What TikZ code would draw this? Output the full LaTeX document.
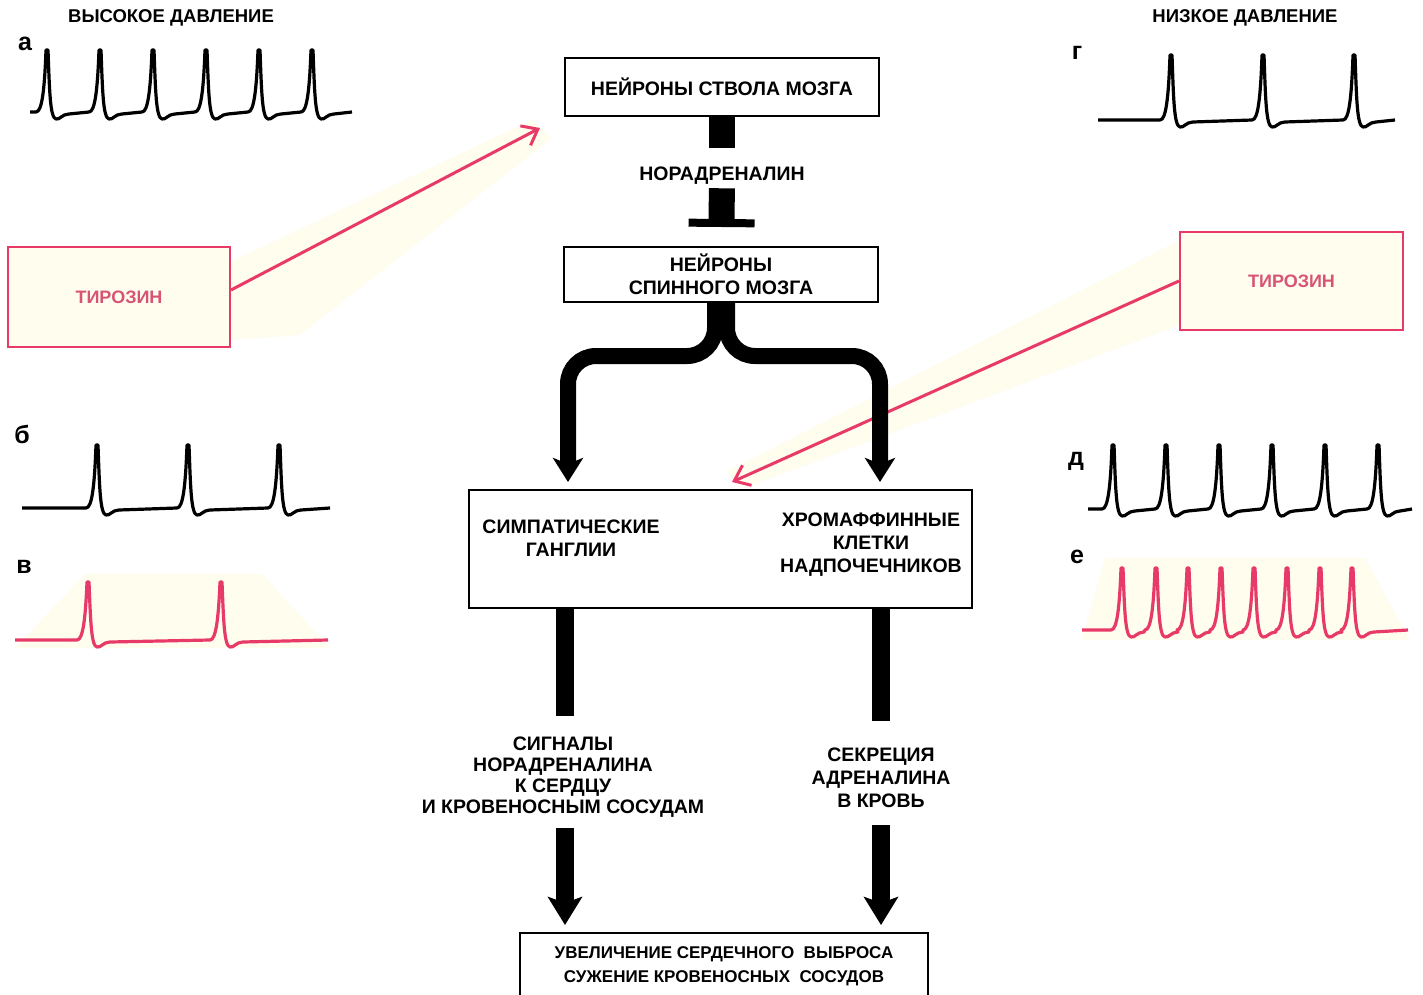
\documentclass[tikz,border=0pt]{standalone}
\usepackage{fontspec}
\setmainfont{Liberation Sans}
\usetikzlibrary{arrows.meta, positioning}
\definecolor{rose}{RGB}{232,58,104}
\definecolor{rosetext}{RGB}{216,84,116}
\definecolor{glow}{RGB}{254,253,238}
% one trace: baseline, peak y, x start, x end, peak positions
\newcommand{\spikes}[5]{(#3,#1) \foreach \p in {#5}{ -- (\p-11,#1)
    .. controls (\p-5,#1) and (\p-2.5,#1-22) .. (\p-1,#2) -- (\p+1,#2)
    .. controls (\p+2.5,#1-22) and (\p+3,#1+6) .. (\p+9,#1+7)
    .. controls (\p+13,#1+8) and (\p+15,#1+2) .. (\p+22,#1+2)} -- (#4,#1)}

\begin{document}
\begin{tikzpicture}[x=1pt, y=-1pt,
          every node/.style={font=\fontsize{19.5}{23}\selectfont\bfseries, align=center},
          box/.style={draw, line width=2pt, fill=white},
          head/.style={font=\fontsize{18.5}{22}\selectfont\bfseries},
          letter/.style={font=\fontsize{25}{25}\selectfont\bfseries},
          tyr/.style={draw=rose, line width=2pt, fill=glow, text=rosetext,
                      font=\fontsize{18}{22}\selectfont\bfseries},
          trace/.style={line width=3.2pt, line join=round},
          pinktrace/.style={trace, draw=rose},
          pinkar/.style={-{Straight Barb[length=14pt, width=22pt]}, draw=rose, line width=3pt},
          bar/.style={line width=26pt},
          fork/.style={-{Stealth[length=24pt, width=30pt, inset=6pt]}, line width=16pt,
                       rounded corners=28pt},
          fat/.style={line width=18pt},
          fatar/.style={-{Stealth[length=28pt, width=34pt, inset=6pt]}, line width=18pt}]
  \clip (0,0) rectangle (1423,995);
  \fill[white] (0,0) rectangle (1423,995);

  % faint glows
  \fill[glow] (230,262) -- (532,120) -- (552,138) -- (300,335) -- (230,340) -- cycle;
  \fill[glow] (1180,240) -- (1180,325) -- (745,488) -- (726,472) -- cycle;
  \fill[glow] (15,648) -- (85,574) -- (262,574) -- (330,648) -- cycle;
  \fill[glow] (1082,640) -- (1105,558) -- (1365,558) -- (1410,640) -- cycle;

  % headings and letters
  \node[head] (hi) at (171,18) {ВЫСОКОЕ ДАВЛЕНИЕ};
  \node[head] (lo) at (1245,18) {НИЗКОЕ ДАВЛЕНИЕ};
  \node[letter] (la) at (25,44) {а};
  \node[letter] (lb) at (22,434) {б};
  \node[letter] (lv) at (24,567) {в};
  \node[letter] (lg) at (1077,53) {г};
  \node[letter] (ld) at (1076,461) {д};
  \node[letter] (le) at (1077,557) {е};

  % traces
  \draw[trace] \spikes{112}{50}{30}{352}{47,100,153,206,259,312};
  \draw[trace] \spikes{508}{445}{22}{330}{97,188,279};
  \draw[pinktrace] \spikes{640}{582}{15}{328}{88,221};
  \draw[trace] \spikes{120}{55}{1098}{1395}{1171,1263,1354};
  \draw[trace] \spikes{509}{445}{1088}{1412}{1113,1166,1219,1272,1325,1378};
  \draw[pinktrace] \spikes{630}{568}{1082}{1408}{1122,1156,1188,1221,1254,1287,1320,1352};

  % tyrosine
  \node[tyr, minimum width=222pt, minimum height=100pt] (tyrL) at (119,297) {ТИРОЗИН};
  \node[tyr, minimum width=223pt, minimum height=98pt] (tyrR) at (1291.5,281) {ТИРОЗИН};
  \coordinate (tipL) at (540,128);
  \coordinate (tipR) at (732,482);
  \draw[pinkar] ([yshift=7pt]tyrL.east) -- (tipL);
  \draw[pinkar] (tyrR.west) -- (tipR);

  % central chain
  \node[box, minimum width=314pt, minimum height=58pt] (stvol) at (722,87) {НЕЙРОНЫ СТВОЛА МОЗГА};
  \node (nor) at (722,176) {НОРАДРЕНАЛИН};
  \node[box, minimum width=314pt, minimum height=55pt] (spin) at (721,274.5) {НЕЙРОНЫ\\СПИННОГО МОЗГА};
  \node[box, minimum width=503pt, minimum height=118pt] (frame) at (720.5,549) {};
  \node (symp) at (571,538) {СИМПАТИЧЕСКИЕ\\ГАНГЛИИ};
  \node (chrom) at (871,545) {ХРОМАФФИННЫЕ\\КЛЕТКИ\\НАДПОЧЕЧНИКОВ};
  \node[font=\fontsize{19.5}{21}\selectfont\bfseries] (sig) at (563,777)
       {СИГНАЛЫ\\НОРАДРЕНАЛИНА\\К СЕРДЦУ\\И КРОВЕНОСНЫМ СОСУДАМ};
  \node (secr) at (881,778) {СЕКРЕЦИЯ\\АДРЕНАЛИНА\\В КРОВЬ};
  \node[box, minimum width=408pt, minimum height=66pt, anchor=north,
        font=\fontsize{17}{24}\selectfont\bfseries] (result) at (724,932)
       {УВЕЛИЧЕНИЕ СЕРДЕЧНОГО\ \ ВЫБРОСА\\СУЖЕНИЕ КРОВЕНОСНЫХ\ \ СОСУДОВ};

  \draw[bar, shorten >=16pt] (stvol) -- (nor);
  \draw[bar, -{Bar[width=66pt, line width=8pt]}, shorten >=19pt] (nor) -- (spin);
  \coordinate (gIn) at (568,482);
  \coordinate (cIn) at (880,482);
  \draw[fork] ([xshift=-6pt]spin.south) -- ++(0,53) -| (gIn);
  \draw[fork] ([xshift=6pt]spin.south) -- ++(0,53) -| (cIn);
  \draw[fat, shorten >=17pt] (frame.south -| 565,0) -- (sig.north -| 565,0);
  \draw[fat, shorten >=24pt] (frame.south -| secr) -- (secr.north);
  \draw[fatar, shorten <=7pt, shorten >=7pt] (sig.south -| 565,0) -- (result.north -| 565,0);
  \draw[fatar, shorten <=14pt, shorten >=7pt] (secr.south) -- (result.north -| secr);
\end{tikzpicture}
\end{document}
